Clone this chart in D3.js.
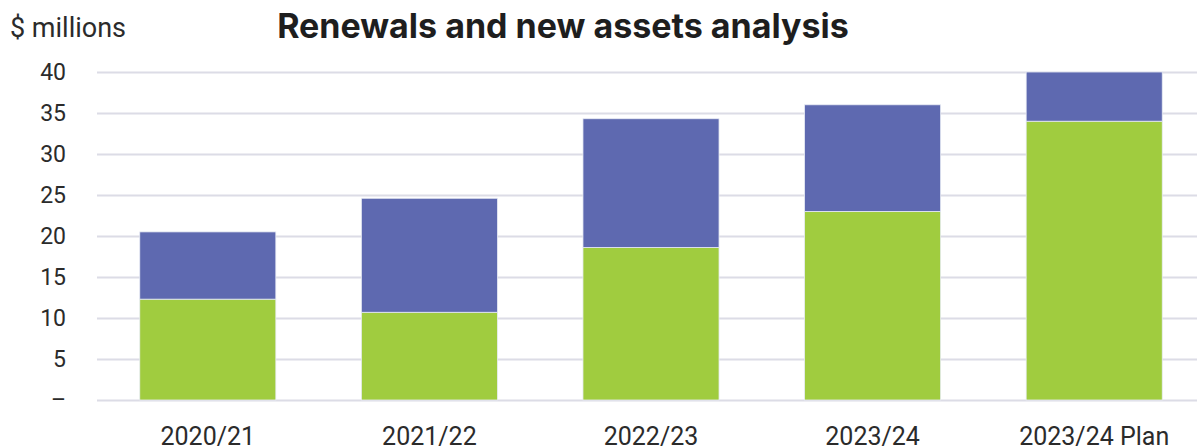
<!DOCTYPE html>
<html>
<head>
<meta charset="utf-8">
<script src="https://cdn.jsdelivr.net/npm/d3@7"></script>
<style>
  body { margin: 0; background: #fff; }
  svg { display: block; }
  .tick text { font-family: Roboto, sans-serif; fill: #2b2b2b; }
</style>
</head>
<body>
<div id="chart"></div>
<script>
// chart data
var years = ["2020/21", "2021/22", "2022/23", "2023/24", "2023/24 Plan"];
var renewals = [12.3, 10.7, 18.6, 23.0, 34.0];
var newAssets = [8.2, 13.9, 15.7, 13.0, 6.0];
var yTicks = [0, 5, 10, 15, 20, 25, 30, 35, 40];

var chartW = 1197, chartH = 448;
var plotLeft = 97, plotRight = 1205, plotTop = 72, plotBottom = 400;

var svg = d3.select("#chart").append("svg")
    .attr("width", chartW)
    .attr("height", chartH);

var x = d3.scaleBand()
    .domain(years)
    .range([plotLeft, plotRight])
    .paddingInner(0.386)
    .paddingOuter(0.193);

var y = d3.scaleLinear()
    .domain([0, 40])
    .range([plotBottom, plotTop]);

// gridlines + y labels
var yAxis = svg.append("g")
    .attr("transform", "translate(" + plotLeft + ",0)")
    .call(d3.axisLeft(y)
        .tickValues(yTicks)
        .tickSize(-(chartW - plotLeft))
        .tickPadding(31)
        .tickFormat(function(d) { return d === 0 ? "–" : d; }));
yAxis.select(".domain").remove();
yAxis.selectAll(".tick line")
    .attr("stroke", "#dcdce6")
    .attr("stroke-width", 2);
yAxis.selectAll(".tick text")
    .style("font-size", "23px");

// stacked bars
var rows = years.map(function(d, i) {
    return {year: d, renewals: renewals[i], newAssets: newAssets[i]};
});
var stack = d3.stack().keys(["renewals", "newAssets"]);
var colours = {renewals: "#a0cc3f", newAssets: "#5e69b0"};

svg.append("g")
    .selectAll("g")
    .data(stack(rows))
    .enter()
    .append("g")
    .attr("fill", function(d) { return colours[d.key]; })
    .selectAll("rect")
    .data(function(d) { return d; })
    .enter()
    .append("rect")
    .attr("x", function(d) { return x(d.data.year); })
    .attr("y", function(d) { return y(d[1]); })
    .attr("width", x.bandwidth())
    .attr("height", function(d) { return y(d[0]) - y(d[1]); })
    .attr("stroke", "#e8ecf4")
    .attr("stroke-width", 0.8);

// x labels (cut by the bottom edge, as in the source)
var xAxis = svg.append("g")
    .attr("transform", "translate(0," + plotBottom + ")")
    .call(d3.axisBottom(x).tickSize(0).tickPadding(27));
xAxis.select(".domain").remove();
xAxis.selectAll(".tick text")
    .style("font-size", "25px");

// titles
svg.append("text")
    .attr("x", 10)
    .attr("y", 37)
    .attr("font-family", "Roboto, sans-serif")
    .attr("font-size", "27px")
    .attr("fill", "#2b2b2b")
    .text("$ millions");

svg.append("text")
    .attr("x", 563)
    .attr("y", 38)
    .attr("text-anchor", "middle")
    .attr("font-family", "Inter, sans-serif")
    .attr("font-weight", "bold")
    .attr("font-size", "34px")
    .attr("fill", "#1e1e1e")
    .text("Renewals and new assets analysis");
</script>
</body>
</html>
